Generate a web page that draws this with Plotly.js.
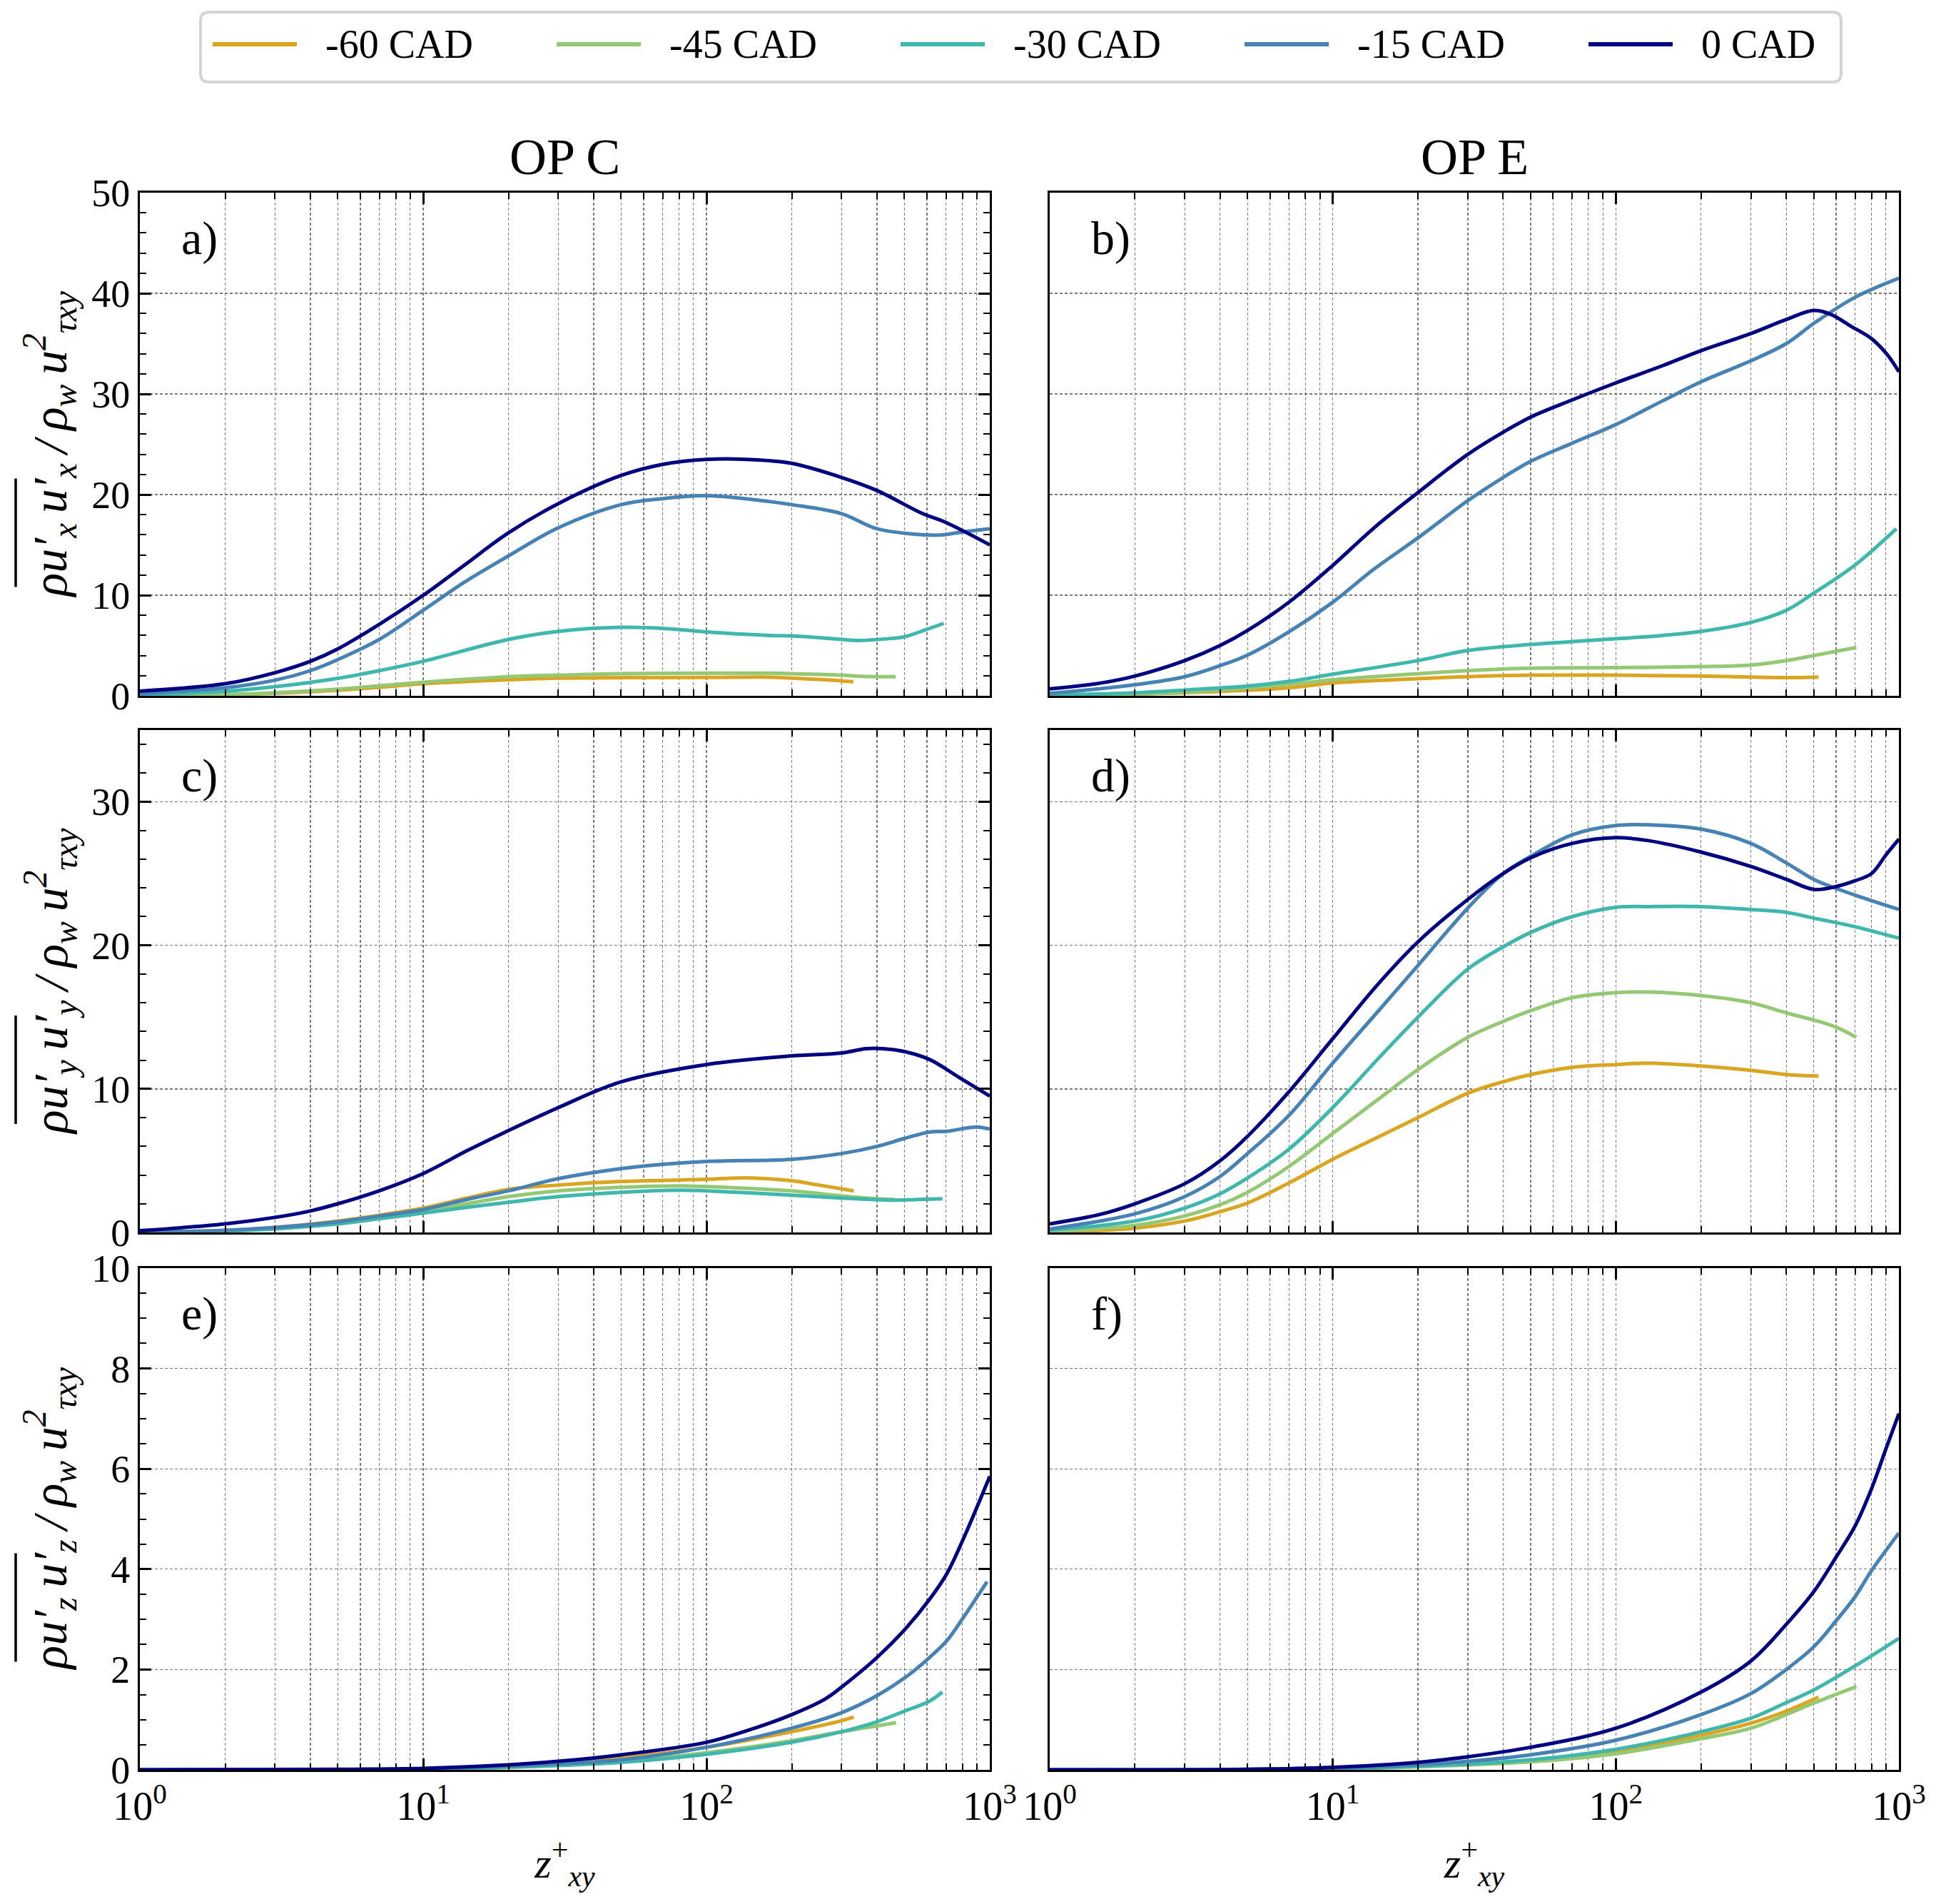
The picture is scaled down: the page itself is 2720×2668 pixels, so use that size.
<!DOCTYPE html>
<html>
<head>
<meta charset="utf-8">
<script src="https://cdn.plot.ly/plotly-3.0.1.min.js"></script>
<style>html,body{margin:0;padding:0;background:#fff;}#chart{width:2720px;height:2668px;}</style>
</head>
<body>
<div id="chart"></div>
<script>
// ---------- series meta ----------
const seriesNames = ["-60 CAD", "-45 CAD", "-30 CAD", "-15 CAD", "0 CAD"];
const seriesColors = ["#DAA520", "#95C874", "#3FB7AC", "#4682B4", "#000080"];
const panelLabels = ["a)", "b)", "c)", "d)", "e)", "f)"];
const columnTitles = ["OP C", "OP E"];
const componentSubs = ["x", "y", "z"];
const xTickVals = [1, 10, 100, 1000];
const xTickText = ["10<sup>0</sup>", "10<sup>1</sup>", "10<sup>2</sup>", "10<sup>3</sup>"];

// ---------- panel a (OP C, u'x u'x) ----------
const a_x_m60 = [1, 2, 3, 5, 7, 10, 20, 30, 50, 100, 168, 200, 262, 330];
const a_y_m60 = [0, 0.1, 0.25, 0.55, 0.85, 1.2, 1.6, 1.75, 1.8, 1.82, 1.85, 1.75, 1.6, 1.4];
const a_x_m45 = [1, 2, 3, 5, 7, 10, 20, 30, 50, 100, 168, 200, 300, 342, 400, 465];
const a_y_m45 = [0, 0.12, 0.3, 0.65, 1.0, 1.35, 1.9, 2.05, 2.2, 2.25, 2.25, 2.2, 2.05, 1.95, 1.9, 1.9];
const a_x_m30 = [1, 2, 3, 5, 7, 10, 20, 30, 50, 70, 100, 168, 200, 300, 342, 448, 498, 585, 688];
const a_y_m30 = [0.08, 0.45, 0.9, 1.74, 2.5, 3.43, 5.6, 6.4, 6.8, 6.7, 6.35, 6.0, 5.95, 5.6, 5.5, 5.7, 5.85, 6.5, 7.2];
const a_x_m15 = [1, 2, 3, 4, 5, 7, 10, 14, 20, 30, 50, 70, 100, 168, 200, 300, 400, 585, 688, 807, 1000];
const a_y_m15 = [0.2, 0.8, 1.55, 2.5, 3.6, 5.6, 8.5, 11.3, 13.9, 16.7, 19.0, 19.6, 19.9, 19.3, 19.0, 18.1, 16.6, 16.0, 16.0, 16.3, 16.6];
const a_x_0 = [1, 2, 3, 4, 5, 7, 10, 14, 20, 30, 50, 70, 100, 168, 200, 300, 400, 580, 690, 1000];
const a_y_0 = [0.46, 1.2, 2.3, 3.43, 4.66, 7.1, 9.98, 13.0, 16.2, 19.1, 21.9, 23.0, 23.5, 23.36, 23.1, 21.7, 20.4, 18.1, 17.3, 15.0];

// ---------- panel b (OP E, u'x u'x) ----------
const b_x_m60 = [1, 3, 7, 10, 20, 30, 50, 100, 146, 200, 400, 520];
const b_y_m60 = [0, 0.3, 0.8, 1.28, 1.7, 1.9, 2.05, 2.05, 2.0, 1.96, 1.8, 1.86];
const b_x_m45 = [1, 3, 7, 10, 20, 30, 50, 100, 200, 300, 400, 500, 707];
const b_y_m45 = [0, 0.35, 1.15, 1.6, 2.2, 2.5, 2.75, 2.8, 2.9, 3.05, 3.5, 4.0, 4.8];
const b_x_m30 = [1, 2, 3, 5, 7, 10, 20, 30, 50, 100, 146, 200, 300, 400, 500, 700, 980];
const b_y_m30 = [0.07, 0.3, 0.57, 0.97, 1.43, 2.14, 3.5, 4.5, 5.1, 5.67, 6.0, 6.4, 7.3, 8.5, 10.2, 13.0, 16.6];
const b_x_m15 = [1, 2, 3, 4, 5, 7, 10, 14, 20, 30, 40, 50, 70, 100, 146, 200, 300, 400, 500, 700, 1000];
const b_y_m15 = [0.24, 1.1, 1.9, 3.0, 4.05, 6.35, 9.3, 12.6, 15.7, 19.4, 21.7, 23.3, 25.1, 26.96, 29.3, 31.2, 33.3, 35.0, 37.0, 39.6, 41.5];
const b_x_0 = [1, 1.5, 2, 3, 4, 5, 7, 10, 14, 20, 30, 40, 50, 70, 100, 146, 200, 300, 400, 500, 575, 680, 800, 910, 1000];
const b_y_0 = [0.69, 1.25, 1.96, 3.5, 5.0, 6.5, 9.3, 12.96, 16.7, 20.2, 24.0, 26.2, 27.7, 29.4, 31.1, 32.8, 34.3, 36.0, 37.4, 38.3, 37.9, 36.7, 35.5, 33.9, 32.2];

// ---------- panel c (OP C, u'y u'y) ----------
const c_x_m60 = [1, 2, 3, 5, 7, 10, 14.3, 20, 30, 50, 100, 138, 200, 250, 331];
const c_y_m60 = [0, 0.15, 0.35, 0.8, 1.2, 1.7, 2.4, 3.0, 3.3, 3.55, 3.7, 3.8, 3.6, 3.3, 2.9];
const c_x_m45 = [1, 2, 3, 5, 7, 10, 14.3, 20, 30, 50, 80, 100, 200, 300, 400, 462];
const c_y_m45 = [0, 0.12, 0.3, 0.7, 1.05, 1.5, 2.0, 2.5, 2.9, 3.15, 3.25, 3.2, 2.9, 2.55, 2.35, 2.3];
const c_x_m30 = [1, 2, 3, 5, 7, 10, 14.3, 20, 30, 50, 80, 100, 200, 300, 450, 560, 681];
const c_y_m30 = [0, 0.1, 0.25, 0.6, 0.95, 1.35, 1.75, 2.1, 2.5, 2.8, 2.95, 2.9, 2.6, 2.4, 2.25, 2.3, 2.35];
const c_x_m15 = [1, 2, 3, 5, 7, 10, 14.3, 20, 30, 50, 70, 100, 200, 300, 400, 500, 613, 707, 897, 1000];
const c_y_m15 = [0, 0.15, 0.35, 0.75, 1.15, 1.6, 2.3, 2.9, 3.75, 4.45, 4.75, 4.95, 5.1, 5.5, 6.0, 6.55, 7.0, 7.05, 7.35, 7.2];
const c_x_0 = [1, 2, 3, 4, 5, 7, 10, 14.3, 20, 30, 50, 100, 200, 300, 365, 420, 500, 613, 780, 1000];
const c_y_0 = [0.12, 0.6, 1.05, 1.5, 2.0, 2.9, 4.1, 5.7, 7.1, 8.7, 10.5, 11.7, 12.3, 12.5, 12.8, 12.8, 12.6, 12.05, 10.8, 9.5];

// ---------- panel d (OP E, u'y u'y) ----------
const d_x_m60 = [1, 2, 3, 4, 5, 7, 10, 14.3, 20, 30, 40, 50, 70, 100, 130, 200, 300, 400, 520];
const d_y_m60 = [0, 0.3, 0.8, 1.45, 2.05, 3.45, 5.1, 6.6, 8.0, 9.7, 10.5, 11.0, 11.5, 11.7, 11.8, 11.6, 11.3, 11.0, 10.9];
const d_x_m45 = [1, 2, 3, 4, 5, 7, 10, 14.3, 20, 30, 40, 50, 70, 100, 130, 200, 300, 400, 500, 600, 707];
const d_y_m45 = [0.07, 0.5, 1.15, 1.93, 2.8, 4.6, 6.9, 9.2, 11.35, 13.6, 14.7, 15.45, 16.35, 16.7, 16.75, 16.5, 16.0, 15.3, 14.8, 14.3, 13.6];
const d_x_m30 = [1, 2, 3, 4, 5, 7, 10, 14.3, 20, 30, 40, 50, 70, 100, 130, 200, 300, 400, 500, 700, 1000];
const d_y_m30 = [0.17, 0.8, 1.7, 2.7, 3.8, 5.8, 8.7, 12.0, 15.0, 18.35, 19.9, 20.9, 22.0, 22.65, 22.7, 22.7, 22.5, 22.3, 21.9, 21.3, 20.5];
const d_x_m15 = [1, 2, 3, 4, 5, 7, 10, 14.3, 20, 30, 40, 50, 70, 100, 130, 200, 300, 396, 500, 594, 700, 1000];
const d_y_m15 = [0.24, 1.3, 2.5, 3.9, 5.5, 8.15, 11.8, 15.3, 18.6, 22.6, 25.0, 26.2, 27.7, 28.35, 28.4, 28.1, 27.1, 25.8, 24.6, 24.0, 23.5, 22.5];
const d_x_0 = [1, 1.5, 2, 3, 4, 5, 7, 10, 14.3, 20, 30, 40, 50, 70, 100, 130, 200, 300, 400, 500, 600, 700, 800, 900, 1000];
const d_y_0 = [0.6, 1.25, 2.0, 3.4, 5.0, 6.7, 9.8, 13.5, 17.2, 20.25, 23.2, 25.0, 26.1, 27.1, 27.5, 27.3, 26.5, 25.5, 24.6, 23.9, 24.1, 24.5, 25.0, 26.3, 27.4];

// ---------- panel e (OP C, u'z u'z) ----------
const e_x_m60 = [1, 10, 20, 50, 100, 200, 300, 331];
const e_y_m60 = [0, 0.02, 0.07, 0.24, 0.45, 0.76, 0.98, 1.05];
const e_x_m45 = [1, 10, 20, 50, 100, 200, 300, 467];
const e_y_m45 = [0, 0.01, 0.05, 0.17, 0.34, 0.58, 0.76, 0.94];
const e_x_m30 = [1, 10, 20, 50, 100, 200, 300, 400, 500, 613, 680];
const e_y_m30 = [0, 0.01, 0.05, 0.15, 0.31, 0.55, 0.76, 0.96, 1.17, 1.37, 1.55];
const e_x_m15 = [1, 10, 20, 30, 50, 100, 200, 300, 400, 500, 613, 707, 812, 978];
const e_y_m15 = [0, 0.02, 0.07, 0.12, 0.2, 0.45, 0.83, 1.14, 1.48, 1.83, 2.24, 2.58, 3.06, 3.75];
const e_x_0 = [1, 5, 10, 20, 30, 50, 100, 148, 200, 262, 300, 400, 500, 613, 707, 812, 1000];
const e_y_0 = [0, 0.01, 0.03, 0.1, 0.17, 0.3, 0.55, 0.83, 1.1, 1.41, 1.65, 2.24, 2.79, 3.4, 3.92, 4.64, 5.85];

// ---------- panel f (OP E, u'z u'z) ----------
const f_x_m60 = [1, 10, 20, 50, 100, 200, 300, 400, 520];
const f_y_m60 = [0, 0.02, 0.07, 0.19, 0.37, 0.69, 0.93, 1.17, 1.45];
const f_x_m45 = [1, 10, 20, 50, 100, 200, 300, 400, 500, 707];
const f_y_m45 = [0, 0.02, 0.06, 0.16, 0.32, 0.62, 0.83, 1.1, 1.33, 1.66];
const f_x_m30 = [1, 10, 20, 50, 100, 200, 300, 400, 500, 700, 1000];
const f_y_m30 = [0, 0.02, 0.07, 0.2, 0.41, 0.76, 1.03, 1.34, 1.59, 2.07, 2.62];
const f_x_m15 = [1, 10, 20, 30, 50, 100, 200, 300, 400, 500, 600, 700, 800, 1000];
const f_y_m15 = [0, 0.03, 0.1, 0.17, 0.3, 0.59, 1.1, 1.52, 2.0, 2.45, 2.97, 3.45, 3.97, 4.72];
const f_x_0 = [1, 5, 10, 20, 30, 50, 100, 200, 300, 400, 500, 600, 700, 800, 900, 1000];
const f_y_0 = [0, 0.01, 0.05, 0.15, 0.26, 0.45, 0.83, 1.55, 2.17, 2.9, 3.55, 4.24, 4.86, 5.6, 6.4, 7.1];

// ---------- assemble ----------
const panels = [
  {xs: [a_x_m60, a_x_m45, a_x_m30, a_x_m15, a_x_0], ys: [a_y_m60, a_y_m45, a_y_m30, a_y_m15, a_y_0]},
  {xs: [b_x_m60, b_x_m45, b_x_m30, b_x_m15, b_x_0], ys: [b_y_m60, b_y_m45, b_y_m30, b_y_m15, b_y_0]},
  {xs: [c_x_m60, c_x_m45, c_x_m30, c_x_m15, c_x_0], ys: [c_y_m60, c_y_m45, c_y_m30, c_y_m15, c_y_0]},
  {xs: [d_x_m60, d_x_m45, d_x_m30, d_x_m15, d_x_0], ys: [d_y_m60, d_y_m45, d_y_m30, d_y_m15, d_y_0]},
  {xs: [e_x_m60, e_x_m45, e_x_m30, e_x_m15, e_x_0], ys: [e_y_m60, e_y_m45, e_y_m30, e_y_m15, e_y_0]},
  {xs: [f_x_m60, f_x_m45, f_x_m30, f_x_m15, f_x_0], ys: [f_y_m60, f_y_m45, f_y_m30, f_y_m15, f_y_0]}
];

const W = 2720, H = 2668;
const FONT = "Liberation Serif, DejaVu Serif, serif";
const colDom = [[196 / W, 1387 / W], [1471 / W, 2661 / W]];
const rowPx = [[270, 975], [1023, 1727], [1777, 2480]];
const rowDom = rowPx.map(p => [1 - p[1] / H, 1 - p[0] / H]);
const yRanges = [[0, 50], [0, 35], [0, 10]];
const yDticks = [10, 10, 2];
const yMinor = [2, 2, 0.5];
const GRID = "#7a7a7a";

const minorX = [];
for (let dec = 1; dec <= 100; dec *= 10) for (let k = 2; k <= 9; k++) minorX.push(k * dec);

const traces = [];
panels.forEach((p, pi) => {
  const ax = pi === 0 ? "" : String(pi + 1);
  p.xs.forEach((xv, si) => {
    traces.push({
      type: "scatter", mode: "lines",
      x: xv, y: p.ys[si],
      xaxis: "x" + ax, yaxis: "y" + ax,
      name: seriesNames[si],
      showlegend: false,
      line: {color: seriesColors[si], width: 5, shape: "spline", smoothing: 1},
      hoverinfo: "skip"
    });
  });
});

const layout = {
  width: W, height: H,
  margin: {l: 0, r: 0, t: 0, b: 0},
  paper_bgcolor: "#ffffff", plot_bgcolor: "#ffffff",
  font: {family: FONT, size: 54, color: "#000"},
  showlegend: false,
  annotations: [],
  shapes: []
};

for (let pi = 0; pi < 6; pi++) {
  const r = Math.floor(pi / 2), c = pi % 2;
  const ax = pi === 0 ? "" : String(pi + 1);
  const bottom = r === 2;
  layout["xaxis" + ax] = {
    type: "log", range: [0, 3], domain: colDom[c], anchor: "y" + ax,
    tickmode: "array", tickvals: xTickVals, ticktext: xTickText,
    showticklabels: bottom,
    ticks: "inside", ticklen: 16, tickwidth: 3, tickcolor: "#000",
    showline: true, linecolor: "#000", linewidth: 3, mirror: "allticks",
    showgrid: true, gridcolor: GRID, gridwidth: 1.3, griddash: "4px,3px",
    minor: {tickvals: minorX, ticks: "inside", ticklen: 9, tickwidth: 2, tickcolor: "#000",
            showgrid: true, gridcolor: GRID, gridwidth: 1.2, griddash: "4px,3px"},
    tickfont: {family: FONT, size: 56, color: "#000"},
    zeroline: false,
    title: bottom ? {text: "<i>z</i><sup>+</sup><sub><i>xy</i></sub>", font: {family: FONT, size: 60, color: "#000"}, standoff: 28} : {text: ""}
  };
  layout["yaxis" + ax] = {
    range: yRanges[r], domain: rowDom[r], anchor: "x" + ax,
    dtick: yDticks[r], tick0: 0,
    showticklabels: c === 0,
    ticks: c === 0 ? "inside" : "", ticklen: 16, tickwidth: 3, tickcolor: "#000",
    showline: true, linecolor: "#000", linewidth: 3, mirror: c === 0 ? "allticks" : true,
    showgrid: true, gridcolor: GRID, gridwidth: 1.3, griddash: "4px,3px",
    minor: c === 0 ? {dtick: yMinor[r], ticks: "inside", ticklen: 9, tickwidth: 2, tickcolor: "#000", showgrid: false} : {showgrid: false},
    tickfont: {family: FONT, size: 54, color: "#000"},
    zeroline: false
  };
  layout.annotations.push({
    text: panelLabels[pi], xref: "paper", yref: "paper",
    x: colDom[c][0] + 56 / W, xanchor: "left",
    y: rowDom[r][1] - 64 / H, yanchor: "middle",
    showarrow: false, font: {family: FONT, size: 66, color: "#000"}
  });
}

columnTitles.forEach((t, c) => {
  layout.annotations.push({
    text: t, xref: "paper", yref: "paper",
    x: (colDom[c][0] + colDom[c][1]) / 2, xanchor: "center",
    y: 1 - 220 / H, yanchor: "middle", showarrow: false,
    font: {family: FONT, size: 72, color: "#000"}
  });
});

// y-axis titles (rotated) with an overline over the numerator
const TS = "\u2009";
componentSubs.forEach((s, r) => {
  const cy = (rowPx[r][0] + rowPx[r][1]) / 2;
  layout.annotations.push({
    text: "<i>ρu′<sub>" + s + "</sub>" + TS + "u′<sub>" + s + "</sub>" + TS + "/" + TS + "ρ<sub>w</sub>" + TS + "u<sup>2</sup><sub>τxy</sub></i>",
    xref: "paper", yref: "paper",
    x: 70 / W, xanchor: "center",
    y: 1 - cy / H, yanchor: "middle",
    textangle: -90, showarrow: false,
    font: {family: FONT, size: 68, color: "#000"}
  });
  layout.shapes.push({
    type: "line", xref: "paper", yref: "paper",
    x0: 22 / W, x1: 22 / W,
    y0: 1 - (cy + 200) / H, y1: 1 - (cy + 48) / H,
    line: {color: "#000", width: 3.5}
  });
});

// legend frame, samples and labels
const LB = {x0: 281, x1: 2580, y0: 17, y1: 115, r: 12};
const px2x = v => v / W, px2y = v => 1 - v / H;
layout.shapes.push({
  type: "path", xref: "paper", yref: "paper",
  path: `M ${px2x(LB.x0 + LB.r)},${px2y(LB.y0)} L ${px2x(LB.x1 - LB.r)},${px2y(LB.y0)} Q ${px2x(LB.x1)},${px2y(LB.y0)} ${px2x(LB.x1)},${px2y(LB.y0 + LB.r)} L ${px2x(LB.x1)},${px2y(LB.y1 - LB.r)} Q ${px2x(LB.x1)},${px2y(LB.y1)} ${px2x(LB.x1 - LB.r)},${px2y(LB.y1)} L ${px2x(LB.x0 + LB.r)},${px2y(LB.y1)} Q ${px2x(LB.x0)},${px2y(LB.y1)} ${px2x(LB.x0)},${px2y(LB.y1 - LB.r)} L ${px2x(LB.x0)},${px2y(LB.y0 + LB.r)} Q ${px2x(LB.x0)},${px2y(LB.y0)} ${px2x(LB.x0 + LB.r)},${px2y(LB.y0)} Z`,
  line: {color: "#d4d4d4", width: 4}, fillcolor: "rgba(255,255,255,0)"
});
seriesNames.forEach((n, i) => {
  const x0 = 298 + 482 * i;
  layout.shapes.push({
    type: "line", xref: "paper", yref: "paper",
    x0: px2x(x0), x1: px2x(x0 + 118), y0: px2y(62), y1: px2y(62),
    line: {color: seriesColors[i], width: 6}
  });
  layout.annotations.push({
    text: n, xref: "paper", yref: "paper",
    x: px2x(x0 + 156), xanchor: "left", y: px2y(62), yanchor: "middle",
    showarrow: false, font: {family: FONT, size: 56, color: "#000"}
  });
});

Plotly.newPlot("chart", traces, layout, {staticPlot: true, displayModeBar: false});
</script>
</body>
</html>
